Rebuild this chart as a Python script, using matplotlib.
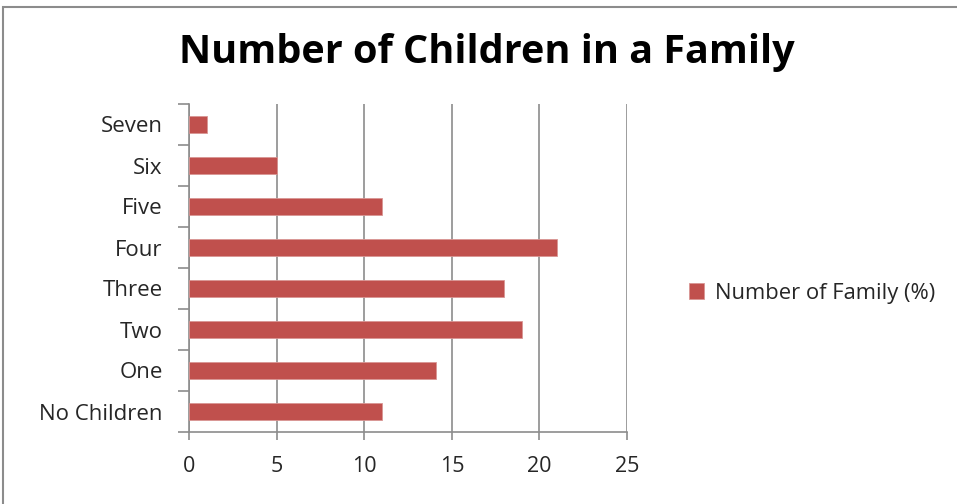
import matplotlib
matplotlib.use("Agg")
import matplotlib.pyplot as plt
from matplotlib.patches import Rectangle

categories = ["No Children", "One", "Two", "Three", "Four", "Five", "Six", "Seven"]
values = [11, 14.1, 19, 18, 21, 11, 5, 1]
series_name = "Number of Family (%)"
xticks = [0, 5, 10, 15, 20, 25]
title = "Number of Children in a Family"

plt.rcParams['font.family'] = ['Open Sans', 'DejaVu Sans']

W, H = 957, 504
fig = plt.figure(figsize=(W / 100, H / 100), dpi=100)
fig.patch.set_facecolor("white")

# outer chart border
fig.add_artist(Rectangle((3 / W, -0.1), 1.2, 1 - 7 / H + 0.1, transform=fig.transFigure,
                         fill=False, edgecolor="#8c8c8c", linewidth=1.5))

left, right = 189 / W, 627 / W
bottom, top = 1 - 432 / H, 1 - 104 / H
ax = fig.add_axes([left, bottom, right - left, top - bottom])

ypos = list(range(len(categories)))
ax.barh(ypos, values, height=0.4, color="#C0504D", edgecolor="#D99694", linewidth=0.6,
        label=series_name, zorder=3)

ax.set_xlim(0, 25)
ax.set_ylim(-0.5, len(categories) - 0.5)
ax.set_xticks(xticks)
ax.set_xticklabels([str(t) for t in xticks], fontsize=15.5, color="#262626")
ax.set_yticks(ypos)
ax.set_yticklabels(categories, fontsize=16, color="#262626")
ax.set_yticks([i - 0.5 for i in range(len(categories) + 1)], minor=True)
ax.tick_params(axis="y", which="major", length=0, pad=19)
ax.tick_params(axis="y", which="minor", length=8, color="#8c8c8c", width=1.2)
ax.tick_params(axis="x", length=6, color="#8c8c8c", width=1.2, pad=11, direction="out")

ax.grid(axis="x", color="#8c8c8c", linewidth=1.2, zorder=0)
for s in ["top", "right"]:
    ax.spines[s].set_visible(False)
for s in ["left", "bottom"]:
    ax.spines[s].set_color("#8c8c8c")
    ax.spines[s].set_linewidth(1.2)

fig.text((180 + 793) / 2 / W, 1 - 53 / H, title, ha="center", va="center",
         fontsize=28.5, fontweight="bold", color="black")

fig.legend(loc="center left", bbox_to_anchor=(680 / W, 1 - 293 / H), frameon=False,
           fontsize=15.8, handlelength=0.7, handleheight=0.7, handletextpad=0.5,
           borderaxespad=0, labelcolor="#262626")

fig.savefig("out.png", dpi=100)
